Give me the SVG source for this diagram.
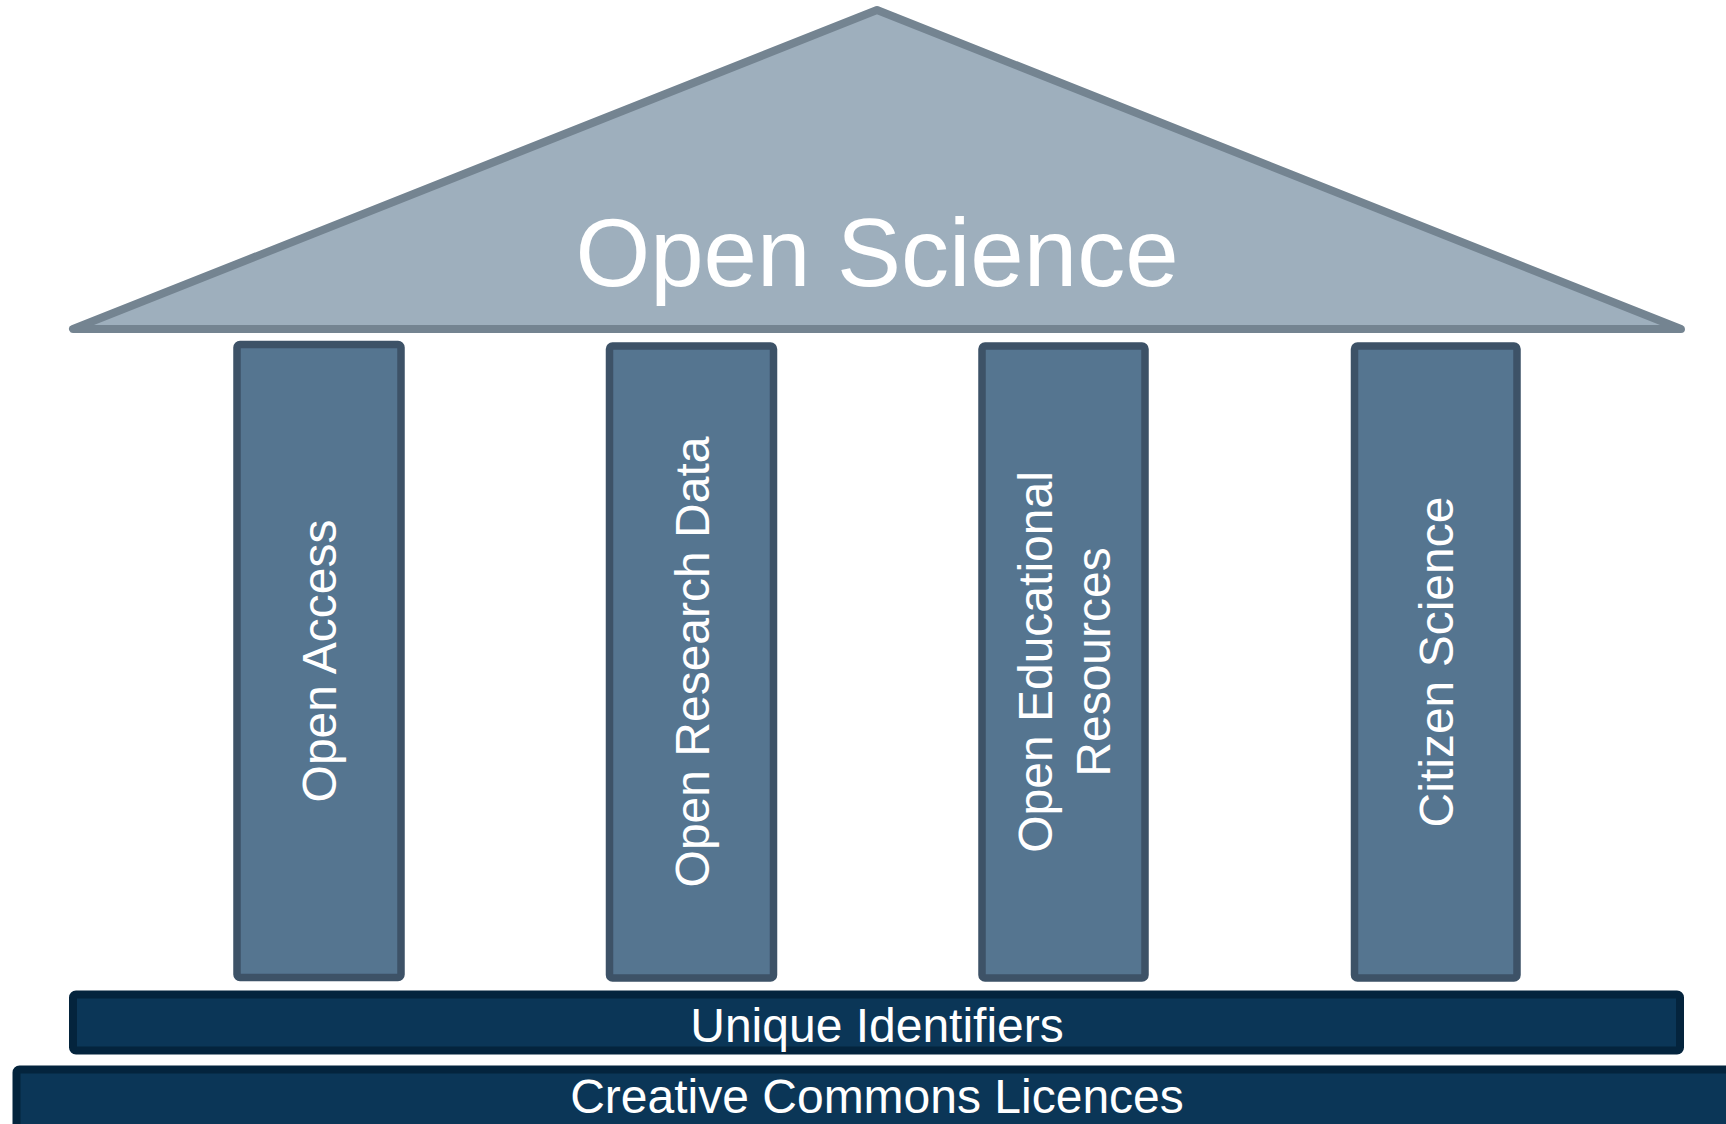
<svg xmlns="http://www.w3.org/2000/svg" width="1726" height="1124" viewBox="0 0 1726 1124">
  <style>
    .roof { fill: #9eafbd; stroke: #748491; stroke-width: 8; stroke-linejoin: round; }
    .pillar { fill: #557590; stroke: #3d5267; stroke-width: 7.5; }
    .bar { fill: #0b3657; stroke: #04243d; stroke-width: 8; }
    .t { fill: #ffffff; font-family: "Liberation Sans", Arial, sans-serif; text-anchor: middle; }
    .pt { font-size: 48px; }
  </style>
  <rect width="1726" height="1124" fill="#ffffff"/>
  <g id="roof">
    <polygon class="roof" points="877,10 73,329 1681,329"/>
    <text class="t" x="877" y="286" font-size="96">Open Science</text>
  </g>
  <g id="pillar-open-access">
    <rect class="pillar" x="237" y="344.5" width="164" height="633" rx="3"/>
    <text class="t pt" transform="translate(319,661) rotate(-90)" x="0" y="17">Open Access</text>
  </g>
  <g id="pillar-open-research-data">
    <rect class="pillar" x="609.5" y="346" width="164" height="632" rx="3"/>
    <text class="t pt" transform="translate(691.5,662) rotate(-90)" x="0" y="17">Open Research Data</text>
  </g>
  <g id="pillar-oer">
    <rect class="pillar" x="982" y="346" width="163" height="632" rx="3"/>
    <text class="t pt" transform="translate(1063.5,662) rotate(-90)" x="0" y="-12">Open Educational</text>
    <text class="t pt" transform="translate(1063.5,662) rotate(-90)" x="0" y="46">Resources</text>
  </g>
  <g id="pillar-citizen-science">
    <rect class="pillar" x="1354.5" y="346" width="162.5" height="632" rx="3"/>
    <text class="t pt" transform="translate(1435.75,662) rotate(-90)" x="0" y="17">Citizen Science</text>
  </g>
  <g id="unique-identifiers">
    <rect class="bar" x="73" y="994.5" width="1607" height="56" rx="3"/>
    <text class="t" x="877" y="1042" font-size="48">Unique Identifiers</text>
  </g>
  <g id="creative-commons">
    <rect class="bar" x="16.5" y="1069.5" width="1730" height="80" rx="3"/>
    <text class="t" x="877" y="1113" font-size="48">Creative Commons Licences</text>
  </g>
  <g id="connectors"></g>
</svg>
